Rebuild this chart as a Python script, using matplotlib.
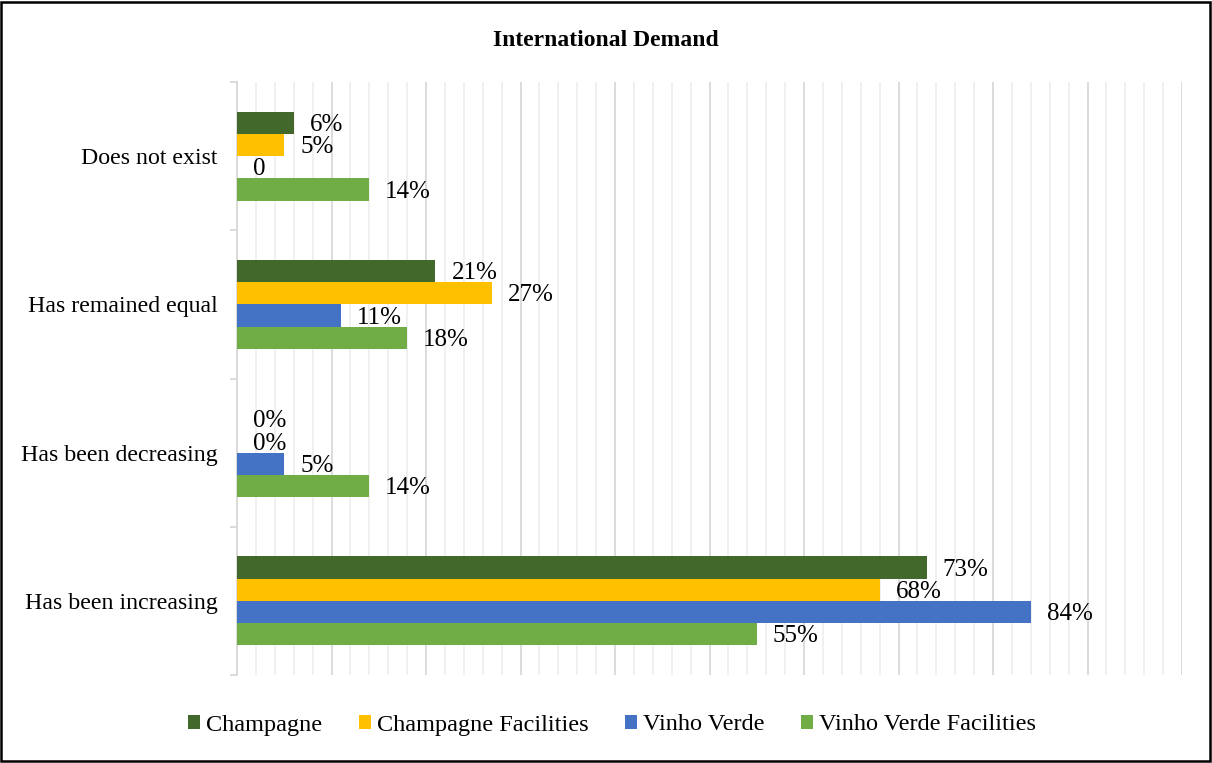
import numpy as np
import matplotlib.pyplot as plt
from matplotlib.patches import Rectangle

plt.rcParams['font.family'] = ['Liberation Serif', 'DejaVu Serif']

# data (top to bottom as in the chart)
categories = ["Does not exist", "Has remained equal", "Has been decreasing", "Has been increasing"]
series_names = ["Champagne", "Champagne Facilities", "Vinho Verde", "Vinho Verde Facilities"]
champagne = [6, 21, 0, 73]
champagne_fac = [5, 27, 0, 68]
vinho_verde = [0, 11, 5, 84]
vinho_verde_fac = [14, 18, 14, 55]
vinho_verde_labels = ["0", "11%", "5%", "84%"]

colors = ["#43682B", "#FFC000", "#4472C4", "#70AD47"]

fig = plt.figure(figsize=(12.12, 7.63), dpi=100)
ax = fig.add_axes([237/1212, 1-675/763, (1182-237)/1212, (675-82)/763])

y = np.arange(len(categories))
h = 0.15
offsets = [-1.5*h, -0.5*h, 0.5*h, 1.5*h]
all_vals = [champagne, champagne_fac, vinho_verde, vinho_verde_fac]
all_labels = [[f"{v}%" for v in champagne],
              [f"{v}%" for v in champagne_fac],
              vinho_verde_labels,
              [f"{v}%" for v in vinho_verde_fac]]

for k in range(4):
    bars = ax.barh(y + offsets[k], all_vals[k], height=h, color=colors[k],
                   label=series_names[k], zorder=3)
    for b, txt in zip(bars, all_labels[k]):
        ax.annotate(txt, (b.get_width(), b.get_y() + b.get_height()/2),
                    xytext=(11.5, -1.5), textcoords='offset points',
                    ha='left', va='center', fontsize=18, color='black')

ax.set_xlim(0, 100)
ax.set_ylim(3.5, -0.5)

# gridlines
ax.set_xticks(np.arange(0, 101, 10))
ax.set_xticks(np.arange(0, 101, 2), minor=True)
ax.grid(axis='x', which='major', color='#d9d9d9', lw=1.3, zorder=0)
ax.grid(axis='x', which='minor', color='#efefef', lw=1.3, zorder=0)
ax.tick_params(axis='x', which='both', length=0, labelbottom=False)

ax.set_yticks(y)
ax.set_yticklabels(categories, fontsize=17.2)
ax.set_yticks(np.arange(-0.5, 3.6, 1), minor=True)
ax.tick_params(axis='y', which='major', length=0, pad=14)
ax.tick_params(axis='y', which='minor', length=5, color='#d9d9d9', width=1.3)

for s in ['top', 'right', 'bottom']:
    ax.spines[s].set_visible(False)
ax.spines['left'].set_color('#d9d9d9')
ax.spines['left'].set_linewidth(1.3)

fig.text(0.5, 1-40/763, "International Demand", ha='center', va='center',
         fontsize=17, fontweight='bold')

fig.legend(loc='center', bbox_to_anchor=(0.505, 1-725/763), ncol=4, frameon=False,
           fontsize=17.5, handlelength=0.5, handleheight=0.5, handletextpad=0.25,
           columnspacing=1.5)

fig.patches.append(Rectangle((0.001, 0.002), 0.997, 0.996, transform=fig.transFigure,
                             fill=False, edgecolor='black', lw=1.8))

fig.savefig("out.png", dpi=100)
